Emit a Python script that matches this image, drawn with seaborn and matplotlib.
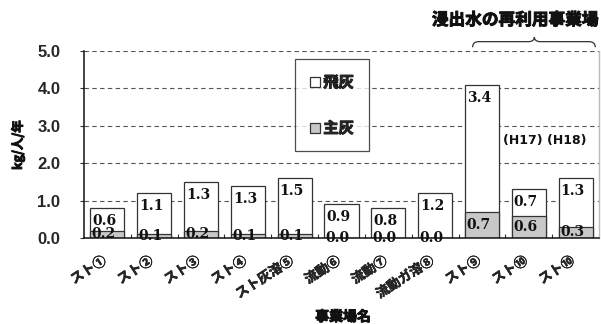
import numpy as np
import pandas as pd
import matplotlib
matplotlib.use("Agg")
import matplotlib.pyplot as plt
from matplotlib.patches import Patch, PathPatch
from matplotlib.path import Path
import matplotlib.transforms as mtransforms
import matplotlib.patheffects as pe
import seaborn as sns

# --- data -------------------------------------------------------------
sites = ["スト①", "スト②", "スト③", "スト④", "スト灰溶⑤", "流動⑥", "流動⑦",
         "流動ガ溶⑧", "スト⑨", "スト⑩", "スト⑩"]
fly_ash = [0.6, 1.1, 1.3, 1.3, 1.5, 0.9, 0.8, 1.2, 3.4, 0.7, 1.3]
bottom_ash = [0.2, 0.1, 0.2, 0.1, 0.1, 0.0, 0.0, 0.0, 0.7, 0.6, 0.3]
y_ticks = [0.0, 1.0, 2.0, 3.0, 4.0, 5.0]

df = pd.DataFrame({"pos": np.arange(len(sites)), "site": sites,
                   "fly": fly_ash, "bottom": bottom_ash})
df["total"] = df["fly"] + df["bottom"]

# --- style ------------------------------------------------------------
sns.set_theme(style="white")
plt.rcParams["font.family"] = ["Noto Sans CJK JP", "DejaVu Sans"]

W, H = 601, 324
fig = plt.figure(figsize=(W / 100, H / 100), dpi=100)
ax_l, ax_r, ax_t, ax_b = 84, 599, 51, 238
ax = fig.add_axes([ax_l / W, 1 - ax_b / H, (ax_r - ax_l) / W, (ax_b - ax_t) / H])

edge = "#333333"
gray = "#c8c8c8"
bw = 0.73
ink = "#111111"
heavy = [pe.withStroke(linewidth=0.7, foreground=ink)]
semi_heavy = [pe.withStroke(linewidth=0.35, foreground=ink)]

sns.barplot(data=df, x="pos", y="total", color="white", edgecolor=edge,
            linewidth=0.9, width=bw, saturation=1, errorbar=None, ax=ax)
sns.barplot(data=df, x="pos", y="bottom", color=gray, edgecolor=edge,
            linewidth=0.9, width=bw, saturation=1, errorbar=None, ax=ax)

ax.set_ylim(0, 5)
ax.set_xlim(-0.5, len(sites) - 0.5)
ax.set_axisbelow(True)
ax.set_yticks(y_ticks)
ax.set_yticklabels([f"{v:.1f}" for v in y_ticks],
                   family="Liberation Sans", fontweight="bold", fontsize=12)
ax.yaxis.grid(True, linestyle=(0, (4, 3)), color="#555555", linewidth=0.8)
ax.xaxis.grid(False)
ax.tick_params(axis="y", length=3, width=0.8, color="#333333", pad=14,
               left=True, direction="out")

ax.set_xticks(np.arange(len(sites)))
ax.set_xticklabels(sites, rotation=33, ha="right", va="top",
                   rotation_mode="anchor", fontweight="bold", fontsize=9.5)
ax.tick_params(axis="x", which="major", length=0, pad=11)
shift = mtransforms.ScaledTranslation(-6 / 100, 0, fig.dpi_scale_trans)
for lbl in ax.get_xticklabels():
    lbl.set_transform(lbl.get_transform() + shift)
    lbl.set_path_effects(semi_heavy)
ax.set_xticks(np.arange(len(sites) - 1) + 0.5, minor=True)
ax.tick_params(axis="x", which="minor", length=3, width=0.8,
               direction="in", color="#333333", bottom=True)
ax.set_xlabel("")
ax.set_ylabel("")

for s in ["left", "bottom"]:
    ax.spines[s].set_color(ink)
    ax.spines[s].set_linewidth(1.1)
ax.spines["top"].set_visible(False)
ax.spines["right"].set_color("#bbbbbb")
ax.spines["right"].set_linewidth(1.0)

# value labels
num_font = dict(family="DejaVu Serif", fontweight="bold", fontsize=10,
                color=ink)
for i, (f, b) in enumerate(zip(fly_ash, bottom_ash)):
    x_left = i - bw / 2
    ax.annotate(f"{f:.1f}", xy=(x_left, f + b), xytext=(1.5, -9.4),
                textcoords="offset points", ha="left", va="center",
                **num_font)
    ax.annotate(f"{b:.1f}", xy=(x_left, b / 2), xytext=(1.0, 0.0),
                textcoords="offset points", ha="left", va="center",
                **num_font)

# year note for the two bars of the same facility
ax.text(9.35, 2.62, "(H17) (H18)", family="DejaVu Sans", fontweight="bold",
        fontsize=9, ha="center", va="center", color=ink)

# legend
handles = [Patch(facecolor="white", edgecolor=edge, linewidth=0.9, label="飛灰"),
           Patch(facecolor=gray, edgecolor=edge, linewidth=0.9, label="主灰")]
leg = ax.legend(handles=handles, loc="upper left",
                bbox_to_anchor=((295 - ax_l) / (ax_r - ax_l), (ax_b - 59) / (ax_b - ax_t)),
                frameon=True, fancybox=False, edgecolor="#222222",
                prop=dict(weight="bold", size=11), handlelength=0.65,
                handleheight=0.65, handletextpad=0.2, labelspacing=1.95,
                borderpad=1.0, borderaxespad=0)
leg.get_frame().set_linewidth(0.9)
for t in leg.get_texts():
    t.set_path_effects(heavy)

# brace over the leachate-reuse facilities
trans = mtransforms.blended_transform_factory(ax.transData, ax.transAxes)
x0, xm, x1, r = 7.8, 9.12, 10.42, 0.13
y_end, y_flat, y_tip = 1.02, 1.05, 1.075
verts = [(x0, y_end), (x0, y_flat), (x0 + r, y_flat), (xm - r, y_flat),
         (xm, y_flat), (xm, y_tip),
         (xm, y_tip), (xm, y_flat), (xm + r, y_flat), (x1 - r, y_flat),
         (x1, y_flat), (x1, y_end)]
codes = [Path.MOVETO, Path.CURVE3, Path.CURVE3, Path.LINETO,
         Path.CURVE3, Path.CURVE3,
         Path.MOVETO, Path.CURVE3, Path.CURVE3, Path.LINETO,
         Path.CURVE3, Path.CURVE3]
ax.add_patch(PathPatch(Path(verts, codes), transform=trans, facecolor="none",
                       edgecolor="#333333", linewidth=0.9, clip_on=False))

fig.text(515 / W, 1 - 20 / H, "浸出水の再利用事業場", ha="center", va="center",
         fontsize=12, fontweight="bold", color=ink, path_effects=heavy)
fig.text(18 / W, 1 - 145 / H, "kg/人/年", rotation=90, ha="center",
         va="center", fontsize=9, fontweight="bold", color=ink,
         path_effects=heavy)
fig.text(343 / W, 1 - 317 / H, "事業場名", ha="center", va="center",
         fontsize=10, fontweight="bold", color=ink, path_effects=heavy)

fig.savefig("out.png", dpi=100)
